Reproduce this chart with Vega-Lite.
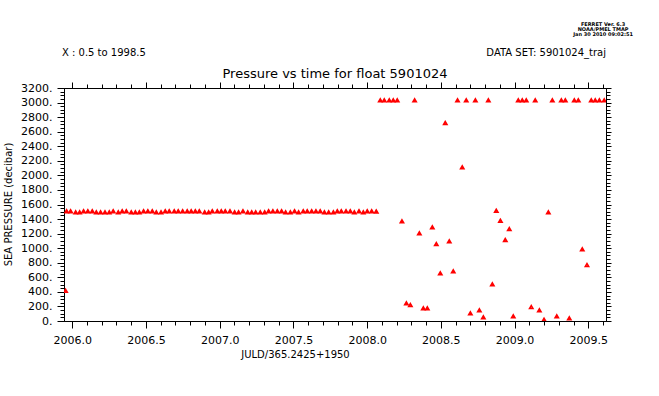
{
  "$schema": "https://vega.github.io/schema/vega-lite/v6.json",
  "width": 542,
  "height": 233,
  "autosize": {"type": "none"},
  "padding": {"left": 64, "top": 88, "right": 53, "bottom": 75},
  "background": "white",
  "config": {
    "view": {"stroke": "black", "strokeWidth": 1},
    "axis": {
      "grid": false,
      "domainColor": "black",
      "tickColor": "black",
      "labelColor": "black",
      "titleColor": "black",
      "labelFont": "DejaVu Sans",
      "titleFont": "DejaVu Sans",
      "labelFontSize": 11,
      "titleFontSize": 10,
      "titleFontWeight": "normal",
      "labelOverlap": false,
      "labelFlush": false,
      "tickWidth": 1,
      "domainWidth": 1
    }
  },
  "datasets": {
    "float": [
      {"t": 2005.955, "p": 416},
      {"t": 2005.962, "p": 1508}, {"t": 2005.989, "p": 1508}, {"t": 2006.023, "p": 1492}, {"t": 2006.050, "p": 1492},
      {"t": 2006.077, "p": 1508}, {"t": 2006.106, "p": 1508}, {"t": 2006.136, "p": 1508}, {"t": 2006.163, "p": 1492},
      {"t": 2006.192, "p": 1492}, {"t": 2006.222, "p": 1492}, {"t": 2006.251, "p": 1492}, {"t": 2006.278, "p": 1508},
      {"t": 2006.312, "p": 1492}, {"t": 2006.339, "p": 1508}, {"t": 2006.367, "p": 1508}, {"t": 2006.400, "p": 1492},
      {"t": 2006.428, "p": 1492}, {"t": 2006.455, "p": 1492}, {"t": 2006.484, "p": 1508}, {"t": 2006.513, "p": 1508},
      {"t": 2006.543, "p": 1508}, {"t": 2006.570, "p": 1492}, {"t": 2006.602, "p": 1492}, {"t": 2006.631, "p": 1508},
      {"t": 2006.658, "p": 1508}, {"t": 2006.692, "p": 1508}, {"t": 2006.719, "p": 1508}, {"t": 2006.749, "p": 1508},
      {"t": 2006.780, "p": 1508}, {"t": 2006.807, "p": 1508}, {"t": 2006.835, "p": 1508}, {"t": 2006.862, "p": 1508},
      {"t": 2006.898, "p": 1492}, {"t": 2006.925, "p": 1492}, {"t": 2006.950, "p": 1508}, {"t": 2006.984, "p": 1508},
      {"t": 2007.011, "p": 1508}, {"t": 2007.038, "p": 1508}, {"t": 2007.070, "p": 1508}, {"t": 2007.101, "p": 1492},
      {"t": 2007.128, "p": 1492}, {"t": 2007.158, "p": 1508}, {"t": 2007.190, "p": 1492}, {"t": 2007.217, "p": 1492},
      {"t": 2007.244, "p": 1492}, {"t": 2007.275, "p": 1492}, {"t": 2007.305, "p": 1492}, {"t": 2007.332, "p": 1508},
      {"t": 2007.361, "p": 1508}, {"t": 2007.391, "p": 1508}, {"t": 2007.420, "p": 1508}, {"t": 2007.447, "p": 1492},
      {"t": 2007.479, "p": 1492}, {"t": 2007.508, "p": 1508}, {"t": 2007.535, "p": 1492}, {"t": 2007.567, "p": 1508},
      {"t": 2007.594, "p": 1508}, {"t": 2007.624, "p": 1508}, {"t": 2007.653, "p": 1508}, {"t": 2007.682, "p": 1508},
      {"t": 2007.710, "p": 1492}, {"t": 2007.739, "p": 1492}, {"t": 2007.771, "p": 1492}, {"t": 2007.798, "p": 1508},
      {"t": 2007.825, "p": 1508}, {"t": 2007.857, "p": 1508}, {"t": 2007.886, "p": 1508}, {"t": 2007.913, "p": 1492},
      {"t": 2007.945, "p": 1508}, {"t": 2007.974, "p": 1492}, {"t": 2008.001, "p": 1508}, {"t": 2008.031, "p": 1508},
      {"t": 2008.062, "p": 1505},
      {"t": 2008.089, "p": 3030}, {"t": 2008.116, "p": 3030}, {"t": 2008.150, "p": 3030}, {"t": 2008.177, "p": 3030},
      {"t": 2008.204, "p": 3030}, {"t": 2008.322, "p": 3030}, {"t": 2008.613, "p": 3030}, {"t": 2008.672, "p": 3030},
      {"t": 2008.734, "p": 3030}, {"t": 2008.822, "p": 3030}, {"t": 2009.025, "p": 3030}, {"t": 2009.052, "p": 3030},
      {"t": 2009.079, "p": 3030}, {"t": 2009.140, "p": 3030}, {"t": 2009.256, "p": 3030}, {"t": 2009.317, "p": 3030},
      {"t": 2009.344, "p": 3030}, {"t": 2009.405, "p": 3030}, {"t": 2009.432, "p": 3030}, {"t": 2009.520, "p": 3030},
      {"t": 2009.547, "p": 3030}, {"t": 2009.575, "p": 3030}, {"t": 2009.608, "p": 3030},
      {"t": 2008.530, "p": 2720}, {"t": 2008.645, "p": 2111}, {"t": 2008.876, "p": 1515}, {"t": 2008.904, "p": 1378},
      {"t": 2008.964, "p": 1264}, {"t": 2008.236, "p": 1369}, {"t": 2008.354, "p": 1205}, {"t": 2008.442, "p": 1287},
      {"t": 2008.469, "p": 1058}, {"t": 2008.557, "p": 1095}, {"t": 2008.937, "p": 1113}, {"t": 2008.496, "p": 655},
      {"t": 2008.584, "p": 683}, {"t": 2008.849, "p": 504}, {"t": 2008.266, "p": 243}, {"t": 2008.293, "p": 220},
      {"t": 2008.381, "p": 174}, {"t": 2008.408, "p": 174}, {"t": 2008.700, "p": 106}, {"t": 2008.761, "p": 147},
      {"t": 2008.788, "p": 51}, {"t": 2009.229, "p": 1493}, {"t": 2009.459, "p": 985}, {"t": 2009.491, "p": 769},
      {"t": 2009.113, "p": 192}, {"t": 2009.168, "p": 147}, {"t": 2008.991, "p": 64}, {"t": 2009.200, "p": 18},
      {"t": 2009.286, "p": 64}, {"t": 2009.371, "p": 37}
    ]
  },
  "layer": [
    {
      "data": {"name": "float"},
      "mark": {"type": "point", "shape": "triangle-up", "filled": false, "stroke": "#ff0000", "strokeWidth": 1.6, "size": 11, "opacity": 1, "clip": true},
      "encoding": {
        "x": {
          "field": "t", "type": "quantitative",
          "scale": {"domain": [2005.944, 2009.62], "nice": false, "zero": false},
          "axis": {
            "orient": "bottom",
            "title": "JULD/365.2425+1950",
            "titleX": 231, "titleY": 33, "titleAlign": "center", "titleBaseline": "middle", "titleAnchor": null,
            "values": [2006.0, 2006.1, 2006.2, 2006.3, 2006.4, 2006.5, 2006.6, 2006.7, 2006.8, 2006.9, 2007.0, 2007.1, 2007.2, 2007.3, 2007.4, 2007.5, 2007.6, 2007.7, 2007.8, 2007.9, 2008.0, 2008.1, 2008.2, 2008.3, 2008.4, 2008.5, 2008.6, 2008.7, 2008.8, 2008.9, 2009.0, 2009.1, 2009.2, 2009.3, 2009.4, 2009.5, 2009.6],
            "labelExpr": "abs(datum.value*2 - round(datum.value*2)) < 0.001 ? format(datum.value, '.1f') : ''",
            "tickSize": {"condition": {"test": "abs(datum.value*2 - round(datum.value*2)) < 0.001", "value": 7}, "value": 4},
            "labelPadding": 6
          }
        },
        "y": {
          "field": "p", "type": "quantitative",
          "scale": {"domain": [0, 3200], "nice": false, "zero": false},
          "axis": {
            "orient": "left",
            "title": "SEA PRESSURE (decibar)",
            "titleX": -56, "titleY": 116, "titleAngle": -90, "titleAlign": "center", "titleBaseline": "middle", "titleAnchor": null,
            "values": [0, 50, 100, 150, 200, 250, 300, 350, 400, 450, 500, 550, 600, 650, 700, 750, 800, 850, 900, 950, 1000, 1050, 1100, 1150, 1200, 1250, 1300, 1350, 1400, 1450, 1500, 1550, 1600, 1650, 1700, 1750, 1800, 1850, 1900, 1950, 2000, 2050, 2100, 2150, 2200, 2250, 2300, 2350, 2400, 2450, 2500, 2550, 2600, 2650, 2700, 2750, 2800, 2850, 2900, 2950, 3000, 3050, 3100, 3150, 3200],
            "labelExpr": "datum.value % 200 === 0 ? format(datum.value, 'd') + '.' : ''",
            "tickSize": {"condition": {"test": "datum.value % 200 === 0", "value": 7}, "value": 4},
            "labelPadding": 5,
            "labelBaseline": "middle"
          }
        }
      }
    },
    {
      "data": {"name": "float"},
      "mark": {"type": "point", "opacity": 0},
      "encoding": {
        "x": {
          "field": "t", "type": "quantitative",
          "axis": {
            "orient": "top", "title": null, "labels": false,
            "values": [2006.0, 2006.1, 2006.2, 2006.3, 2006.4, 2006.5, 2006.6, 2006.7, 2006.8, 2006.9, 2007.0, 2007.1, 2007.2, 2007.3, 2007.4, 2007.5, 2007.6, 2007.7, 2007.8, 2007.9, 2008.0, 2008.1, 2008.2, 2008.3, 2008.4, 2008.5, 2008.6, 2008.7, 2008.8, 2008.9, 2009.0, 2009.1, 2009.2, 2009.3, 2009.4, 2009.5, 2009.6],
            "tickSize": {"condition": {"test": "abs(datum.value*2 - round(datum.value*2)) < 0.001", "value": 6}, "value": 4}
          }
        },
        "y": {
          "field": "p", "type": "quantitative",
          "axis": {
            "orient": "right", "title": null, "labels": false,
            "values": [0, 50, 100, 150, 200, 250, 300, 350, 400, 450, 500, 550, 600, 650, 700, 750, 800, 850, 900, 950, 1000, 1050, 1100, 1150, 1200, 1250, 1300, 1350, 1400, 1450, 1500, 1550, 1600, 1650, 1700, 1750, 1800, 1850, 1900, 1950, 2000, 2050, 2100, 2150, 2200, 2250, 2300, 2350, 2400, 2450, 2500, 2550, 2600, 2650, 2700, 2750, 2800, 2850, 2900, 2950, 3000, 3050, 3100, 3150, 3200],
            "tickSize": {"condition": {"test": "datum.value % 200 === 0", "value": 5}, "value": 4}
          }
        }
      }
    },
    {
      "data": {"values": [{}]},
      "mark": {"type": "text", "align": "center", "baseline": "middle", "font": "DejaVu Sans", "fontSize": 13, "color": "black", "clip": false},
      "encoding": {
        "x": {"datum": 2007.782, "type": "quantitative", "axis": null},
        "y": {"datum": 3392, "type": "quantitative", "axis": null},
        "text": {"value": "Pressure vs time for float 5901024"}
      }
    },
    {
      "data": {"values": [{}]},
      "mark": {"type": "text", "align": "left", "baseline": "middle", "font": "DejaVu Sans", "fontSize": 10, "color": "black", "clip": false},
      "encoding": {
        "x": {"datum": 2005.93, "type": "quantitative", "axis": null},
        "y": {"datum": 3681, "type": "quantitative", "axis": null},
        "text": {"value": "X : 0.5 to 1998.5"}
      }
    },
    {
      "data": {"values": [{}]},
      "mark": {"type": "text", "align": "right", "baseline": "middle", "font": "DejaVu Sans", "fontSize": 10, "color": "black", "clip": false},
      "encoding": {
        "x": {"datum": 2009.62, "type": "quantitative", "axis": null},
        "y": {"datum": 3681, "type": "quantitative", "axis": null},
        "text": {"value": "DATA SET: 5901024_traj"}
      }
    },
    {
      "data": {"values": [{}]},
      "mark": {"type": "text", "align": "center", "baseline": "middle", "font": "DejaVu Sans", "fontSize": 5, "fontWeight": "bold", "lineBreak": "\n", "lineHeight": 5, "color": "black", "clip": false},
      "encoding": {
        "x": {"datum": 2009.60, "type": "quantitative", "axis": null},
        "y": {"datum": 4085, "type": "quantitative", "axis": null},
        "text": {"value": "FERRET Ver. 6.3\nNOAA/PMEL TMAP\nJan 30 2010 09:02:51"}
      }
    }
  ],
  "resolve": {"axis": {"x": "independent", "y": "independent"}}
}
